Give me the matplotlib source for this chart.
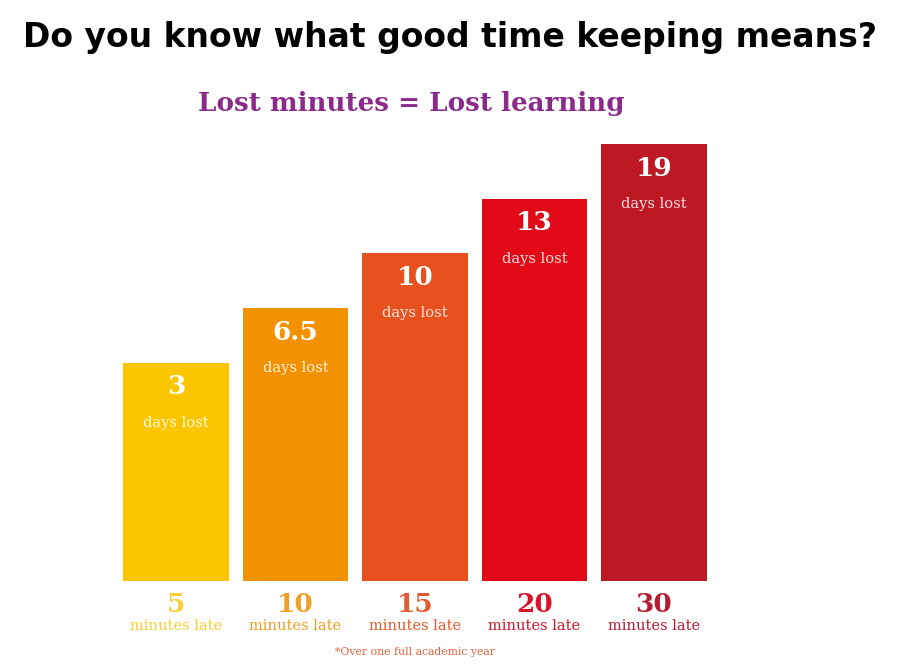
import matplotlib
matplotlib.use("Agg")
import matplotlib.pyplot as plt

# Data
minutes_late = ["5", "10", "15", "20", "30"]
days_lost = ["3", "6.5", "10", "13", "19"]
bar_heights = [4, 5, 6, 7, 8]   # visual step heights of the graphic
colors = ["#FBC600", "#F39200", "#E8501E", "#E30A17", "#BD1824"]
label_colors = ["#F7CF3A", "#F0A028", "#E35A30", "#D8142A", "#B51E32"]

fig = plt.figure(figsize=(9, 6.65), dpi=100)
fig.patch.set_facecolor("white")

px_unit = 54.6
ax_left = 116.25 / 900
ax_w = 597.5 / 900
ax_bottom = 84 / 665
ylim_top = 8.6
ax_h = ylim_top * px_unit / 665
ax = fig.add_axes([ax_left, ax_bottom, ax_w, ax_h])
ax.set_xlim(-0.5, 4.5)
ax.set_ylim(0, ylim_top)
ax.axis("off")

x = range(len(bar_heights))
ax.bar(x, bar_heights, width=0.887, color=colors)

serif = "DejaVu Serif"
for i, h in enumerate(bar_heights):
    ax.text(i, h - 24 / px_unit, days_lost[i], ha="center", va="center",
            color="white", fontsize=19, fontweight="bold", family=serif)
    ax.text(i, h - 60 / px_unit, "days lost", ha="center", va="center",
            color="white", alpha=0.85, fontsize=10.5, family=serif)
    ax.text(i, -24 / px_unit, minutes_late[i], ha="center", va="center",
            color=label_colors[i], fontsize=19, fontweight="bold", family=serif,
            clip_on=False)
    ax.text(i, -45 / px_unit, "minutes late", ha="center", va="center",
            color=label_colors[i], fontsize=10.5, family=serif, clip_on=False)

fig.text(415 / 900, 1 - 652 / 665, "*Over one full academic year", ha="center",
         va="center", color="#E2623E", fontsize=7.8, family=serif)

fig.text(450 / 900, 1 - 38 / 665, "Do you know what good time keeping means?",
         ha="center", va="center", color="black", fontsize=23.8, fontweight="bold",
         family="DejaVu Sans")
fig.text(411 / 900, 1 - 104 / 665, "Lost minutes = Lost learning",
         ha="center", va="center", color="#8C2A8C", fontsize=18.8, fontweight="bold",
         family=serif)

fig.savefig("out.png", dpi=100, facecolor="white")
